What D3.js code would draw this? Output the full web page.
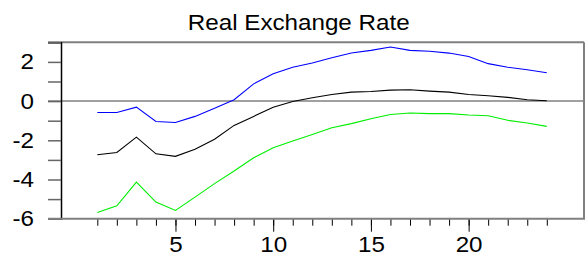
<!DOCTYPE html>
<html>
<head>
<meta charset="utf-8">
<script src="https://cdn.jsdelivr.net/npm/d3@7"></script>
<style>
  body { margin: 0; background: #fff; }
  text { font-family: "Liberation Sans", Arial, sans-serif; }
</style>
</head>
<body>
<div id="chart"></div>
<script>
// periods 1..24
var periods = d3.range(1, 25);
var upper = [-0.58, -0.58, -0.31, -1.04, -1.09, -0.78, -0.37, 0.07, 0.88, 1.40, 1.73, 1.94,
    2.21, 2.45, 2.59, 2.76, 2.59, 2.54, 2.45, 2.28, 1.91, 1.73, 1.60, 1.45];
var response = [-2.74, -2.62, -1.84, -2.69, -2.82, -2.46, -1.95, -1.24, -0.78, -0.31, -0.02, 0.17,
    0.34, 0.46, 0.49, 0.56, 0.58, 0.51, 0.46, 0.34, 0.27, 0.19, 0.07, 0.02];
var lower = [-5.68, -5.34, -4.13, -5.15, -5.58, -4.90, -4.21, -3.57, -2.89, -2.38, -2.04, -1.70,
    -1.36, -1.15, -0.90, -0.68, -0.61, -0.64, -0.64, -0.71, -0.75, -0.98, -1.12, -1.29];
var yTicks = [-6, -5, -4, -3, -2, -1, 0, 1, 2, 3];
var xMajor = [5, 10, 15, 20];
var title = "Real Exchange Rate";

var width = 587, height = 256;
var plotLeft = 61, plotRight = 584, plotTop = 42.3, plotBottom = 218.7, frameLeft = 48;
var stretch = "scale(1.1,1)";

var svg = d3.select("#chart").append("svg")
    .attr("width", width)
    .attr("height", height);

var xScale = d3.scaleLinear().domain([1, 24]).range([97.3, 546.8]);
var yScale = d3.scaleLinear().domain([-6, 3]).range([plotBottom, plotTop]);

// frame lines (top, right, zero)
var gray = "#808080";
svg.append("line").attr("x1", frameLeft).attr("x2", plotRight).attr("y1", plotTop).attr("y2", plotTop)
    .attr("stroke", gray).attr("stroke-width", 2);
svg.append("line").attr("x1", plotRight).attr("x2", plotRight).attr("y1", plotTop).attr("y2", plotBottom)
    .attr("stroke", gray).attr("stroke-width", 2);
svg.append("line").attr("x1", frameLeft).attr("x2", plotRight).attr("y1", yScale(0)).attr("y2", yScale(0))
    .attr("stroke", gray).attr("stroke-width", 1.5);

// y axis
var yAxis = d3.axisLeft(yScale)
    .tickValues(yTicks)
    .tickSize(13)
    .tickPadding(14)
    .tickFormat(function (d) { return d % 2 === 0 ? d : ""; });
var gy = svg.append("g").attr("transform", "translate(" + plotLeft + ",0)").call(yAxis);
gy.select(".domain").attr("stroke", "#000").attr("stroke-width", 1.5);
gy.selectAll(".tick line").attr("stroke", "#666").attr("stroke-width", 1.5);
gy.selectAll(".tick text")
    .attr("font-size", 22).attr("fill", "#000")
    .attr("font-family", "Liberation Sans, Arial, sans-serif")
    .attr("x", -27 / 1.1)
    .attr("transform", stretch);

// x axis: minor ticks then major ticks with labels
var gxMinor = svg.append("g").attr("transform", "translate(0," + plotBottom + ")")
    .call(d3.axisBottom(xScale).tickValues(periods).tickSize(7).tickFormat(""));
gxMinor.select(".domain").remove();
gxMinor.selectAll(".tick line").attr("stroke", "#000");

var gx = svg.append("g").attr("transform", "translate(0," + plotBottom + ")")
    .call(d3.axisBottom(xScale).tickValues(xMajor).tickSize(13).tickPadding(5));
gx.select(".domain").remove();
gx.selectAll(".tick line").attr("stroke", "#000");
gx.selectAll(".tick text")
    .attr("font-size", 22).attr("fill", "#000")
    .attr("font-family", "Liberation Sans, Arial, sans-serif")
    .attr("transform", stretch);

svg.append("line").attr("x1", frameLeft).attr("x2", plotRight + 1).attr("y1", plotBottom).attr("y2", plotBottom)
    .attr("stroke", gray).attr("stroke-width", 2);

// lines
var line = d3.line()
    .x(function (d, i) { return xScale(periods[i]); })
    .y(function (d) { return yScale(d); });

[[upper, "#0000ff"], [response, "#000000"], [lower, "#00ee00"]].forEach(function (s) {
    svg.append("path")
        .attr("d", line(s[0]))
        .attr("fill", "none")
        .attr("stroke", s[1])
        .attr("stroke-width", 1.1);
});

svg.append("text")
    .attr("transform", "translate(298.7,30) " + stretch)
    .attr("text-anchor", "middle")
    .attr("font-size", 22)
    .attr("fill", "#000")
    .text(title);
</script>
</body>
</html>
